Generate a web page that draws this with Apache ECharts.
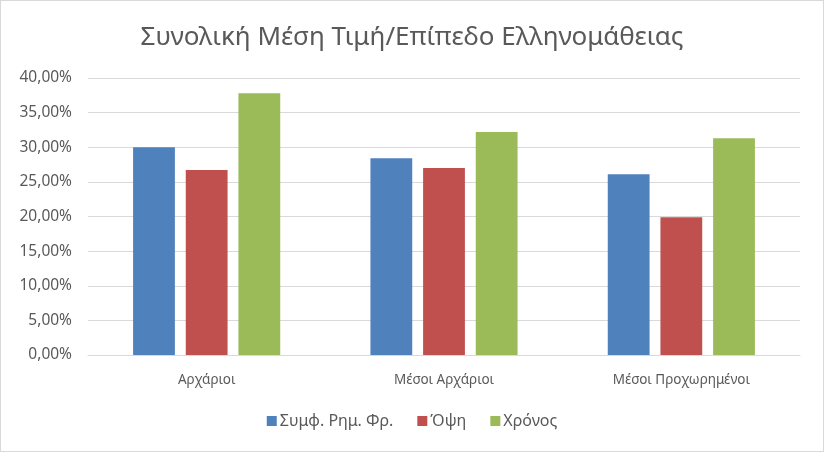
<!DOCTYPE html>
<html><head><meta charset="utf-8">
<script src="https://cdn.jsdelivr.net/npm/echarts@6/dist/echarts.min.js"></script>
<style>html,body{margin:0;padding:0;background:#fff}#c{width:822px;height:450px;border:1px solid #d9d9d9}</style>
</head><body><div id="c"></div>
<script>
const categories = ['Αρχάριοι', 'Μέσοι Αρχάριοι', 'Μέσοι Προχωρημένοι'];
const seriesNames = ['Συμφ. Ρημ. Φρ.', 'Όψη', 'Χρόνος'];
const valuesSymf = [30.0, 28.4, 26.1];
const valuesOpsi = [26.7, 27.0, 19.9];
const valuesXronos = [37.8, 32.2, 31.3];
const colors = ['#4F81BD', '#C0504D', '#9BBB59'];
const font = '"Noto Sans", "Open Sans", sans-serif';
const chart = echarts.init(document.getElementById('c'));
chart.setOption({
  animation: false,
  title: { text: 'Συνολική Μέση Τιμή/Επίπεδο Ελληνομάθειας', left: 'center', top: 19,
    textStyle: { fontFamily: font, fontSize: 26, fontWeight: 'normal', color: '#595959' } },
  legend: { bottom: 17, left: 'center', itemWidth: 10, itemHeight: 10, itemGap: 24, icon: 'rect',
    textStyle: { fontFamily: font, fontSize: 16, color: '#595959', padding: [0, 0, 0, -2] }, data: seriesNames },
  grid: { left: 87, right: 23, top: 77, bottom: 96 },
  xAxis: { type: 'category', data: categories,
    axisLine: { lineStyle: { color: '#d9d9d9' } }, axisTick: { show: false },
    axisLabel: { fontFamily: font, fontSize: 13.5, color: '#595959', margin: 18 } },
  yAxis: { type: 'value', min: 0, max: 40, interval: 5,
    axisLine: { show: false }, axisTick: { show: false },
    splitLine: { lineStyle: { color: '#d9d9d9' } },
    axisLabel: { fontFamily: font, fontSize: 15.5, color: '#595959', margin: 16,
      formatter: v => v.toFixed(2).replace('.', ',') + '%' } },
  series: [
    { name: seriesNames[0], type: 'bar', data: valuesSymf, itemStyle: { color: colors[0] }, barGap: '26%', barCategoryGap: '38%' },
    { name: seriesNames[1], type: 'bar', data: valuesOpsi, itemStyle: { color: colors[1] } },
    { name: seriesNames[2], type: 'bar', data: valuesXronos, itemStyle: { color: colors[2] } }
  ]
});
</script></body></html>
